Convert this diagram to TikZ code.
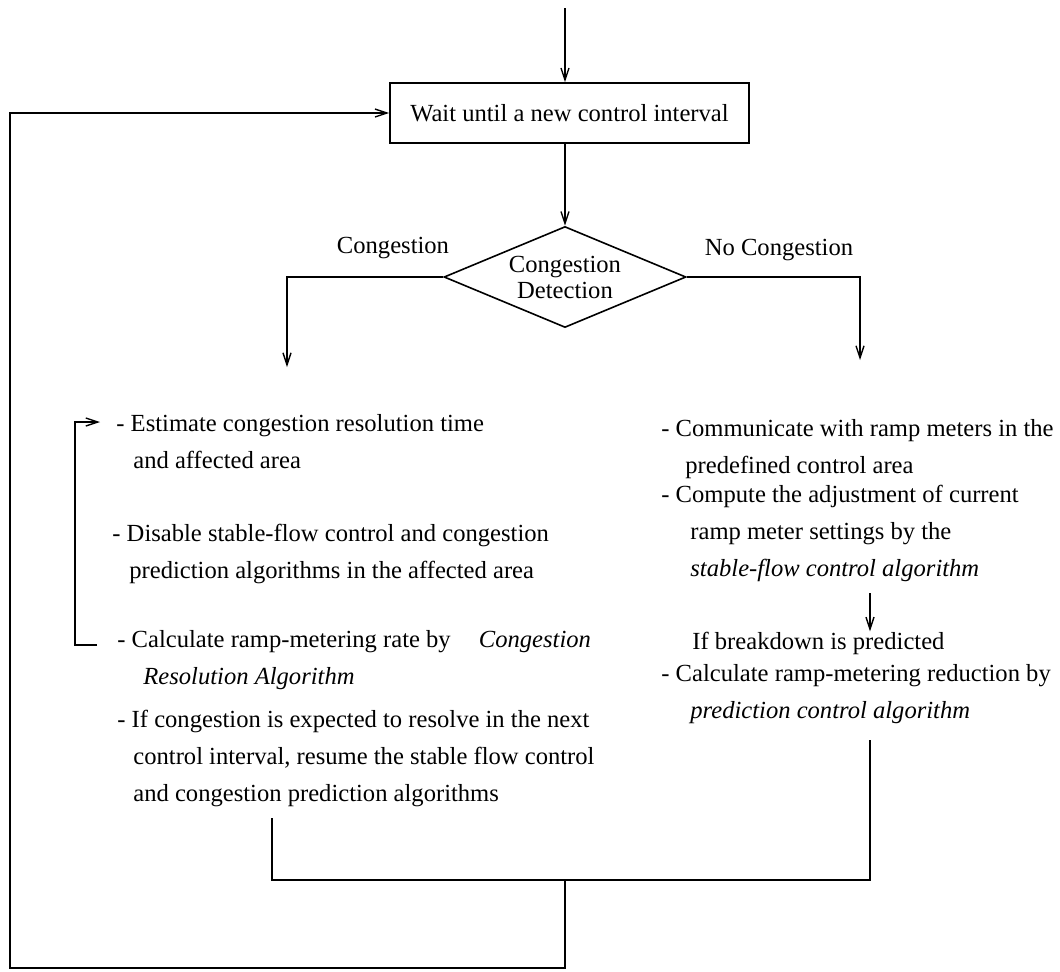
\documentclass[tikz,border=0pt]{standalone}
\usepackage{fontspec}
\setmainfont{Liberation Serif}
\usepackage{tikz}
\usetikzlibrary{shapes,arrows,positioning,calc,arrows.meta,shapes.geometric}
\tikzset{
  processBox/.style={
    rectangle,
    draw=black,
    line width=0.8pt,
    minimum width=179.5pt,
    minimum height=30pt,
    inner sep=0pt,
    font=\fontsize{12.3}{14}\selectfont
  },
  decisionBox/.style={
    diamond,
    draw=black,
    line width=0.8pt,
    aspect=2.4,
    inner sep=0pt,
    minimum width=121pt,
    minimum height=50.5pt,
    align=center,
    font=\fontsize{12.3}{13}\selectfont
  },
  itemText/.style={
    anchor=base west,
    inner sep=0pt,
    align=left,
    font=\fontsize{12.3}{18.5}\selectfont
  },
  labelText/.style={
    inner sep=0pt,
    font=\fontsize{12.3}{14}\selectfont
  },
  arrowLine/.style={
    -{Straight Barb[length=6pt,width=4pt]},
    line width=0.7pt
  },
  plainLine/.style={
    line width=0.7pt
  }
}

\begin{document}
\begin{tikzpicture}[x=0.5pt,y=-0.5pt]
    \useasboundingbox (0,0) rectangle (1060,971);

    \node[processBox] (waitBox) at (569.5,113) {Wait until a new control interval};
    \node[decisionBox] (detectDiamond) at (565,277) {Congestion\\Detection};
    \node[labelText] (congLabel) at (393,248) {Congestion};
    \node[labelText] (noCongLabel) at (779,250) {No Congestion};

    \node[itemText] (estimateItem) at (116,468) {- Estimate congestion resolution time\\\hspace*{8.5pt}and affected area};
    \node[itemText] (disableItem) at (112,578) {- Disable stable-flow control and congestion\\\hspace*{8.5pt}prediction algorithms in the affected area};
    \node[itemText] (calcRateItem) at (117,684) {- Calculate ramp-metering rate by\hspace{11pt} \emph{Congestion}\\\hspace*{13pt}\emph{Resolution Algorithm}};
    \node[itemText] (resumeItem) at (117,801) {- If congestion is expected to resolve in the next\\\hspace*{8pt}control interval, resume the stable flow control\\\hspace*{8pt}and congestion prediction algorithms};

    \node[itemText] (communicateItem) at (661,473) {- Communicate with ramp meters in the\\\hspace*{12pt}predefined control area};
    \node[itemText] (computeItem) at (661,576) {- Compute the adjustment of current\\\hspace*{14.5pt}ramp meter settings by the\\\hspace*{14.5pt}\emph{stable-flow control algorithm}};
    \node[itemText] (breakdownText) at (692,649) {If breakdown is predicted};
    \node[itemText] (reduceItem) at (661,718) {- Calculate ramp-metering reduction by\\\hspace*{14.5pt}\emph{prediction control algorithm}};

    \coordinate (entryTop) at (565,8);
    \coordinate (congEnd) at (287,367);
    \coordinate (noCongEnd) at (860,360);
    \coordinate (bracketLow) at (97,645);
    \coordinate (bracketHigh) at (100,422);
    \coordinate (breakStart) at (870,593);
    \coordinate (leftOut) at (272,818);
    \coordinate (rightOut) at (870,740);
    \coordinate (joinPt) at (565,880);
    \coordinate (loopCorner) at (10,968);

    \draw[arrowLine] (entryTop) -- (entryTop |- waitBox.north);
    \draw[arrowLine] (waitBox.south -| detectDiamond.north) -- (detectDiamond.north);
    \draw[arrowLine] (detectDiamond.west) -| (congEnd);
    \draw[arrowLine] (detectDiamond.east) -| (noCongEnd);
    \draw[arrowLine] (bracketLow) -- ++(-22,0) |- (bracketHigh);
    \draw[arrowLine] (breakStart) -- (breakStart |- breakdownText.north);
    \draw[plainLine] (leftOut) -- (leftOut |- joinPt) -- (rightOut |- joinPt) -- (rightOut);
    \draw[arrowLine] (joinPt) |- (loopCorner) |- (waitBox.west);
\end{tikzpicture}
\end{document}
